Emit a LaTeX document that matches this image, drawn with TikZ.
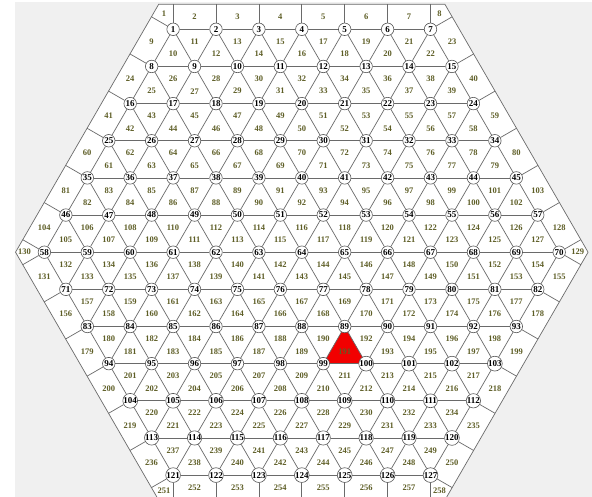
\documentclass[tikz,border=0pt]{standalone}
\usepackage{fontspec}
\setmainfont{Liberation Serif}
\definecolor{bggray}{HTML}{F0F0F0}
\definecolor{linecol}{HTML}{6A6A6A}
\definecolor{ringcol}{HTML}{555555}
\definecolor{labcol}{HTML}{5E5E26}
\definecolor{hotred}{HTML}{F20000}
\pgfdeclarelayer{back}
\pgfdeclarelayer{mid}
\pgfsetlayers{back,mid,main}
\begin{document}
\begin{tikzpicture}[x=1pt,y=-1pt,
  vtx/.style={circle,draw=ringcol,fill=white,line width=0.6pt,minimum size=12.5pt,inner sep=0pt,font=\fontsize{9}{9}\selectfont\bfseries},
  trilab/.style={inner sep=0pt,text=labcol,font=\fontsize{8.5}{9}\selectfont\bfseries},
  link/.style={draw=linecol,line width=0.7pt}]
\def\mS{42.9}\def\mH{37.15}\def\mCX{301.8}\def\mY{29.3}\def\mD{25}
\useasboundingbox (0,0) rectangle (592,497);
% ---------- vertices ----------
\foreach \rr/\ff/\nn in {0/1/7,1/8/8,2/16/9,3/25/10,4/35/11,5/46/12,6/58/13,7/71/12,8/83/11,9/94/10,10/104/9,11/113/8,12/121/7}{
  \foreach \kk in {1,...,\nn}{
    \pgfmathsetmacro\px{\mCX+(\kk-1-(\nn-1)/2)*\mS}
    \pgfmathsetmacro\py{\mY+\rr*\mH}
    \pgfmathtruncatemacro\id{\ff+\kk-1}
    \node[vtx] (n\id) at (\px,\py) {\id};
  }
}
% ---------- background ----------
\begin{pgfonlayer}{back}
\fill[bggray] (15,2.5) rectangle (592,497);
\coordinate (hTL) at ({\mCX-3*\mS-\mD*tan(30)},{\mY-\mD});
\coordinate (hTR) at ({\mCX+3*\mS+\mD*tan(30)},{\mY-\mD});
\coordinate (hR) at ({\mCX+6*\mS+\mD/cos(30)},{\mY+6*\mH});
\coordinate (hBR) at ({\mCX+3*\mS+\mD*tan(30)},{\mY+12*\mH+\mD});
\coordinate (hBL) at ({\mCX-3*\mS-\mD*tan(30)},{\mY+12*\mH+\mD});
\coordinate (hL) at ({\mCX-6*\mS-\mD/cos(30)},{\mY+6*\mH});
\filldraw[fill=white,draw=linecol,line width=0.7pt] (hTL)--(hTR)--(hR)--(hBR)--(hBL)--(hL)--cycle;
\fill[hotred] (n89.center)--(n99.center)--(n100.center)--cycle;
\end{pgfonlayer}
% ---------- connectors ----------
\begin{pgfonlayer}{mid}
\foreach \rr/\ff/\nn in {0/1/7,1/8/8,2/16/9,3/25/10,4/35/11,5/46/12,6/58/13,7/71/12,8/83/11,9/94/10,10/104/9,11/113/8,12/121/7}{
  \pgfmathtruncatemacro\lst{\ff+\nn-2}
  \foreach \na in {\ff,...,\lst}{
    \pgfmathtruncatemacro\nb{\na+1}
    \draw[link] (n\na) -- (n\nb);
  }
}
\foreach \fs/\ns/\fb in {1/7/8,8/8/16,16/9/25,25/10/35,35/11/46,46/12/58,71/12/58,83/11/71,94/10/83,104/9/94,113/8/104,121/7/113}{
  \pgfmathtruncatemacro\lst{\ns-1}
  \foreach \kk in {0,...,\lst}{
    \pgfmathtruncatemacro\sa{\fs+\kk}
    \pgfmathtruncatemacro\ba{\fb+\kk}
    \pgfmathtruncatemacro\bb{\fb+\kk+1}
    \draw[link] (n\sa) -- (n\ba);
    \draw[link] (n\sa) -- (n\bb);
  }
}
% perpendiculars to the outer edges
\foreach \rr/\ff/\nn in {0/1/7,1/8/8,2/16/9,3/25/10,4/35/11,5/46/12,6/58/13}{
  \pgfmathtruncatemacro\gg{\ff+\nn-1}
  \pgfmathsetmacro\pxl{\mCX-(\nn-1)/2*\mS}
  \pgfmathsetmacro\pxr{\mCX+(\nn-1)/2*\mS}
  \pgfmathsetmacro\py{\mY+\rr*\mH}
  \coordinate (ul\ff) at ({\pxl-0.8660254*\mD},{\py-0.5*\mD});
  \coordinate (ur\gg) at ({\pxr+0.8660254*\mD},{\py-0.5*\mD});
  \draw[link] (n\ff) -- (ul\ff);
  \draw[link] (n\gg) -- (ur\gg);
}
\foreach \rr/\ff/\nn in {6/58/13,7/71/12,8/83/11,9/94/10,10/104/9,11/113/8,12/121/7}{
  \pgfmathtruncatemacro\gg{\ff+\nn-1}
  \pgfmathsetmacro\pxl{\mCX-(\nn-1)/2*\mS}
  \pgfmathsetmacro\pxr{\mCX+(\nn-1)/2*\mS}
  \pgfmathsetmacro\py{\mY+\rr*\mH}
  \coordinate (ll\ff) at ({\pxl-0.8660254*\mD},{\py+0.5*\mD});
  \coordinate (lr\gg) at ({\pxr+0.8660254*\mD},{\py+0.5*\mD});
  \draw[link] (n\ff) -- (ll\ff);
  \draw[link] (n\gg) -- (lr\gg);
}
\foreach \kk in {1,...,7}{
  \pgfmathsetmacro\px{\mCX+(\kk-4)*\mS}
  \pgfmathtruncatemacro\bid{120+\kk}
  \coordinate (tp\kk) at (\px,{\mY-\mD});
  \coordinate (bt\bid) at (\px,{\mY+12*\mH+\mD});
  \draw[link] (n\kk) -- (tp\kk);
  \draw[link] (n\bid) -- (bt\bid);
}
\end{pgfonlayer}
% ---------- cell labels ----------
\foreach \rr/\cu/\cl/\lf/\lleft/\lright in {0/7/8/10/9/23,1/8/9/25/24/40,2/9/10/42/41/59,3/10/11/61/60/80,4/11/12/82/81/103,5/12/13/105/104/128,6/13/12/132/131/155,7/12/11/157/156/178,8/11/10/180/179/199,9/10/9/201/200/218,10/9/8/220/219/235,11/8/7/237/236/250}{
  \pgfmathtruncatemacro\tm{\cu+\cl-3}
  \pgfmathtruncatemacro\isup{\cl>\cu ? 1 : 0}
  \foreach \jj in {0,...,\tm}{
    \pgfmathsetmacro\px{\mCX+(\jj-\tm/2)*\mS/2}
    \pgfmathsetmacro\py{\mY+\rr*\mH+((mod(\jj,2)==\isup) ? 1 : 2)*\mH/3}
    \pgfmathtruncatemacro\lab{\lf+\jj}
    \node[trilab] (t\lab) at (\px,\py) {\lab};
  }
  \pgfmathsetmacro\sgn{\isup==1 ? -1 : 1}
  \pgfmathsetmacro\pxl{\mCX-(\cu+\cl-2)/4*\mS-0.4330127*\mD}
  \pgfmathsetmacro\pxr{\mCX+(\cu+\cl-2)/4*\mS+0.4330127*\mD}
  \pgfmathsetmacro\py{\mY+\rr*\mH+\mH/2+\sgn*0.25*\mD}
  \node[trilab] (t\lleft) at (\pxl,\py) {\lleft};
  \node[trilab] (t\lright) at (\pxr,\py) {\lright};
}
\foreach \kk in {1,...,6}{
  \pgfmathsetmacro\px{\mCX+(\kk-3.5)*\mS}
  \pgfmathtruncatemacro\la{\kk+1}
  \pgfmathtruncatemacro\lb{\kk+251}
  \node[trilab] (t\la) at (\px,{\mY-\mD/2}) {\la};
  \node[trilab] (t\lb) at (\px,{\mY+12*\mH+\mD/2}) {\lb};
}
\node[trilab] (t1) at ({\mCX-3*\mS-9.02},{\mY-15.6}) {1};
\node[trilab] (t8) at ({\mCX+3*\mS+9.02},{\mY-15.6}) {8};
\node[trilab] (t251) at ({\mCX-3*\mS-9.02},{\mY+12*\mH+15.6}) {251};
\node[trilab] (t258) at ({\mCX+3*\mS+9.02},{\mY+12*\mH+15.6}) {258};
\node[trilab] (t129) at ({\mCX+6*\mS+18.5},{\mY+6*\mH}) {129};
\node[trilab] (t130) at ({\mCX-6*\mS-20},{\mY+6*\mH}) {130};
\end{tikzpicture}
\end{document}
